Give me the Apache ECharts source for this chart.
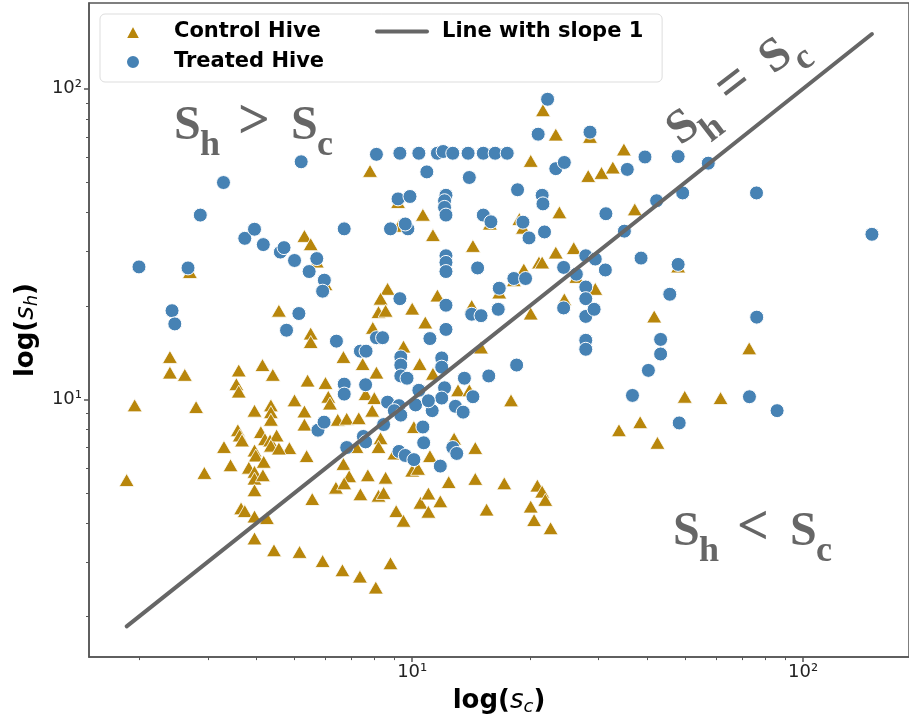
<!DOCTYPE html>
<html>
<head>
<meta charset="utf-8">
<script src="https://cdn.jsdelivr.net/npm/echarts@6/dist/echarts.min.js"></script>
<style>
  html, body { margin: 0; padding: 0; background: #fff; }
  #main { width: 909px; height: 721px; }
</style>
</head>
<body>
<div id="main"></div>
<script>
// [s_c, s_h]
var controlHive = [
  [21.6,85.3],[23.3,71.2],[28.5,70],[20.1,58.6],[28.2,52.4],[30.5,53.6],[32.6,55.8],[34.8,63.8],[15.8,36.8],[23.8,40.0],[37.1,40.9],[18.8,38.1],[19.2,35.7],
  [14.3,31.2],[12.2,27],[23.3,29.7],[25.9,30.7],[21.1,27.6],[21.5,27.6],[19.3,26.2],[18.2,24.2],[26.3,24.8],[16.7,22.1],[29.4,22.7],[11.6,21.6],[14.2,20.0],
  [20.1,18.9],[24.5,21.0],[41.6,18.5],[72.8,14.6],[15.0,14.7],[13.1,10.7],[14.0,10.7],[17.9,9.93],[49.8,10.2],[61.5,10.1],[33.8,7.96],[38.3,8.45],[42.4,7.25],
  [12.8,7.48],[14.5,6.98],[12.4,5.42],[14.5,5.55],[17.2,5.37],[20.9,5.28],[21.5,5.05],[21.9,4.75],[20.1,4.52],[20.5,4.09],[22.6,3.85],[15.5,4.42],[11.8,4.7],
  [5.7,27.8],[5.3,33.6],[5.5,31.6],[6.0,23.5],[11.3,33.8],[2.7,25.7],[8.65,22.7],[8.3,21.1],[8.2,19.1],[8.55,19.3],[10.0,19.6],[4.56,19.3],[10.8,17.7],
  [7.93,17.0],[5.5,16.3],[5.5,15.3],[9.5,14.8],[6.67,13.7],[7.47,13.0],[10.45,13.0],[2.4,13.7],[2.4,12.2],[2.62,12.0],[3.6,12.4],[4.14,12.9],[4.4,12.0],
  [8.1,12.2],[11.3,12.1],[5.4,11.5],[6.0,11.3],[3.55,11.2],[3.6,10.6],[6.1,10.2],[6.16,9.7],[5.0,9.93],[7.6,10.4],[8.0,10.1],[1.95,9.57],[2.8,9.45],[7.9,9.2],
  [4.35,9.57],[4.35,9.1],[4.35,8.6],[3.95,9.2],[5.3,9.15],[5.3,8.3],[6.45,8.6],[6.8,8.67],[7.3,8.7],[10.1,8.15],[3.58,7.96],[3.62,7.66],[3.67,7.38],[4.1,7.85],
  [4.2,7.45],[4.33,7.38],[4.5,7.66],[4.35,7.1],[4.85,6.97],[8.3,7.5],[8.2,7.03],[7.2,7.03],[3.3,7.03],[3.95,6.85],[3.98,6.6],[4.56,6.95],[5.37,6.57],[9.0,6.7],
  [11.1,6.57],[3.43,6.14],[3.82,6.03],[3.95,5.85],[4.17,6.3],[6.67,6.2],[2.94,5.8],[1.86,5.5],[6.9,5.66],[7.7,5.7],[8.55,5.6],[10.0,5.9],[10.35,5.98],
  [3.95,5.56],[3.95,5.1],[4.15,5.7],[3.65,4.46],[3.73,4.37],[3.95,4.2],[4.25,4.15],[3.95,3.57],[4.43,3.27],[5.15,3.23],[5.9,3.02],[6.63,2.82],[7.35,2.69],
  [8.07,2.48],[8.8,2.97],[5.55,4.78],[6.38,5.2],[6.7,5.37],[7.37,4.95],[8.2,4.9],[8.45,5.0],[9.1,4.37],[9.5,4.07],[10.5,4.65],[11.0,4.98],[11.0,4.35],
  [7.8,54.4],[9.2,43.2],[10.65,39.3],[9.25,36.2],[47.9,26.8]
];
var treatedHive = [
  [22.2,92.5],[21.0,71.4],[28.5,72.5],
  [8.1,61.5],[9.3,62],[10.4,62],[11.6,62],[12.0,62.8],[12.7,62],[13.9,62],[15.2,62],[16.3,62],[17.5,62],
  [10.9,54],[14.0,51.8],[23.3,55.3],[24.5,57.9],[35.5,55],[39.4,60.3],[47.9,60.5],[57.2,57.6],[76.0,46.2],[49.2,46.2],[42.2,43.6],
  [12.2,45.4],[12.1,43.6],[12.1,41.5],[12.2,39.2],[15.2,39.2],[15.9,37.3],[18.6,47.3],[21.5,45.4],[21.6,42.6],[31.3,39.6],[19.2,37.2],[21.8,34.6],
  [19.9,33.1],[34.9,34.8],[150,34.0],
  [12.2,29.0],[12.2,27.6],[12.2,25.8],[14.7,26.5],[24.4,26.6],[27.8,29.0],[29.4,28.3],[31.2,26.1],[38.5,28.5],[47.9,27.2],[18.2,24.5],[19.5,24.5],
  [26.3,25.3],[16.7,22.8],[27.8,23.0],[27.8,21.1],[45.6,21.8],[12.2,20.1],[14.2,18.8],[15.0,18.6],[16.6,19.5],[24.4,19.7],[27.8,18.5],[29.2,19.5],
  [76.1,18.4],[12.2,16.8],[27.8,15.5],[27.8,14.5],[43.2,15.6],[43.2,14.0],[11.9,13.6],[11.9,12.7],[18.5,12.9],[15.7,11.9],[13.6,11.7],[40.2,12.4],
  [12.1,10.9],[11.9,10.1],[14.3,10.2],[36.6,10.3],[72.9,10.2],[85.8,9.2],[12.9,9.5],[13.5,9.1],[11.25,9.2],[48.2,8.4],[12.7,7.0],[13.0,6.7],[11.8,6.1],
  [3.73,33.0],[3.95,35.3],[4.16,31.5],[4.6,29.8],[4.7,30.8],[5.0,28.0],[5.7,28.4],[5.45,25.8],[5.96,24.2],[5.9,22.3],[6.7,35.4],[8.8,35.4],[9.75,35.4],
  [9.6,36.7],[2.0,26.7],[2.67,26.5],[9.3,21.1],[2.43,19.3],[2.47,17.5],[5.13,18.9],[4.77,16.7],[6.4,15.4],[8.1,15.8],[8.4,15.8],[11.1,15.7],[7.37,14.3],
  [7.62,14.3],[9.35,13.7],[9.35,12.9],[9.35,11.9],[9.7,11.7],[6.7,11.2],[6.7,10.4],[7.6,11.15],[10.4,10.7],[8.65,9.8],[9.25,9.55],[9.0,9.2],[9.35,8.9],
  [10.2,9.6],[11.0,9.9],[5.74,7.96],[5.95,8.45],[8.45,8.3],[10.65,8.15],[7.5,7.6],[7.6,7.3],[10.7,7.25],[6.8,7.0],[9.25,6.8],[9.6,6.6],[10.1,6.4],
  [5.2,58.2],[3.29,49.9],[9.2,44.2],[9.87,45.0],[2.87,39.2]
];
var majorTicks = [10, 100];
var minorTicks = [2, 3, 4, 5, 6, 7, 8, 9, 20, 30, 40, 50, 60, 70, 80, 90];
var xRange = [1.49, 186.6];
var yRange = [1.481, 188.8];

// slope-1 line spans the smallest to the largest s_c
var allX = controlHive.concat(treatedHive).map(function (p) { return p[0]; });
var lo = Math.min.apply(null, allX), hi = Math.max.apply(null, allX);
var slopeLine = [[lo, lo], [hi, hi]];

var sup = { 1: '\u00b9', 2: '\u00b2' };
function powLabel(v) { return '10' + sup[Math.round(Math.log10(v))]; }

var spine = { color: '#555', width: 1.5 };
var nameStyle = {
  fontFamily: 'DejaVu Sans', fontWeight: 'bold', fontSize: 26, color: '#000',
  rich: {
    i: { fontStyle: 'italic', fontWeight: 'normal', fontSize: 26, lineHeight: 30 },
    sub: { fontStyle: 'italic', fontWeight: 'normal', fontSize: 18, lineHeight: 30, padding: [12, 0, 0, 0] }
  }
};

function majorAxis(range, pos, name, gap, margin) {
  return {
    type: 'log', min: range[0], max: range[1], position: pos,
    name: name, nameLocation: 'middle', nameGap: gap, nameTextStyle: nameStyle,
    axisLine: { show: true, lineStyle: spine },
    axisTick: { show: true, length: 5, customValues: majorTicks, lineStyle: spine },
    axisLabel: { customValues: majorTicks, formatter: powLabel, margin: margin,
                 fontFamily: 'DejaVu Sans', fontSize: 18, color: '#222' },
    splitLine: { show: false }
  };
}
function minorAxis(range, pos) {
  return {
    type: 'log', min: range[0], max: range[1], position: pos,
    axisLine: { show: false },
    axisTick: { show: true, length: 3, customValues: minorTicks, lineStyle: { color: '#555', width: 1 } },
    axisLabel: { show: false },
    splitLine: { show: false }
  };
}

// "S_h ? S_c" annotation built from separate glyphs
function relation(x, y, rot, op) {
  var parts = [['S', 0, -15, 48], ['h', 26, 4, 36], [op, 64, -18, 56], ['S', 117, -15, 48], ['c', 143, 4, 36]];
  return {
    type: 'group', x: x, y: y, rotation: rot, z: 50,
    children: parts.map(function (p) {
      return {
        type: 'text', x: p[1], y: p[2],
        style: { text: p[0], fill: '#666', fontFamily: 'Liberation Serif', fontWeight: 'bold',
                 fontSize: p[3], verticalAlign: 'middle', align: 'left' }
      };
    })
  };
}

var legendText = { fontFamily: 'DejaVu Sans', fontWeight: 'bold', fontSize: 21, color: '#000' };

var chart = echarts.init(document.getElementById('main'));
chart.setOption({
  animation: false,
  backgroundColor: '#fff',
  grid: { left: 89, right: -11, top: 3, bottom: 62, show: true, borderColor: '#555', borderWidth: 1.5 },
  xAxis: [
    majorAxis(xRange, 'bottom', 'log({i|s}{sub|c})', 25, 6),
    minorAxis(xRange, 'bottom')
  ],
  yAxis: [
    majorAxis(yRange, 'left', 'log({i|s}{sub|h})', 45, 7),
    minorAxis(yRange, 'left')
  ],
  legend: [{
    orient: 'vertical', left: 100, top: 14,
    padding: [7.5, 338, 9.5, 24.5], itemGap: 9, itemWidth: 15, itemHeight: 14,
    backgroundColor: 'rgba(255,255,255,0.8)', borderColor: '#ddd', borderWidth: 1, borderRadius: 5,
    data: [{ name: 'Control Hive', icon: 'triangle' }, { name: 'Treated Hive', icon: 'circle' }],
    textStyle: Object.assign({ padding: [0, 0, 0, 28.5] }, legendText)
  }, {
    orient: 'vertical', left: 375, top: 21, padding: 0, itemWidth: 50, itemHeight: 14,
    data: ['Line with slope 1'],
    itemStyle: { opacity: 0 },
    lineStyle: { width: 4, color: '#666' },
    textStyle: Object.assign({ padding: [0, 0, 0, 10] }, legendText)
  }],
  series: [{
    name: 'Control Hive', type: 'scatter', data: controlHive,
    symbol: 'triangle', symbolSize: [15, 13],
    itemStyle: { color: '#b8860b', borderColor: '#fff', borderWidth: 0.8, opacity: 1 }
  }, {
    name: 'Treated Hive', type: 'scatter', data: treatedHive,
    symbol: 'circle', symbolSize: 14,
    itemStyle: { color: '#4682b4', borderColor: '#fff', borderWidth: 1, opacity: 1 }
  }, {
    name: 'Line with slope 1', type: 'line', data: slopeLine, symbol: 'none',
    lineStyle: { color: '#666', width: 4, cap: 'round' }, itemStyle: { color: '#666' }, z: 5
  }],
  graphic: [
    relation(174, 142, 0, '>'),
    relation(673, 548, 0, '<'),
    relation(682, 148, 37.5 * Math.PI / 180, '=')
  ]
});
</script>
</body>
</html>
